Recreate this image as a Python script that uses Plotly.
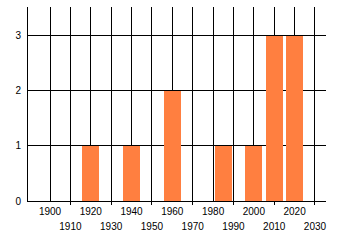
import plotly.graph_objects as go

years = [1920, 1940, 1960, 1985, 2000, 2010, 2020]
counts = [1, 1, 2, 1, 1, 3, 3]

even_ticks = [1900, 1920, 1940, 1960, 1980, 2000, 2020]
odd_ticks = [1910, 1930, 1950, 1970, 1990, 2010, 2030]
y_ticks = [0, 1, 2, 3]

bar_color = "#FF7F40"
font = dict(family="Liberation Sans, Arial, sans-serif", size=10, color="#000000")

fig = go.Figure()
fig.add_trace(go.Bar(x=years, y=counts, width=8.2,
                     marker=dict(color=bar_color, line=dict(width=0)),
                     showlegend=False, hoverinfo="x+y"))
# invisible trace for the second (staggered) x axis
fig.add_trace(go.Scatter(x=[odd_ticks[0]], y=[0], xaxis="x2", mode="markers",
                         marker=dict(opacity=0), showlegend=False, hoverinfo="skip"))

xr = [1889.2, 2035.4]
fig.update_layout(
    width=340, height=245,
    margin=dict(l=28, r=14, t=7, b=44),
    paper_bgcolor="white", plot_bgcolor="white",
    font=font,
    bargap=0,
    xaxis=dict(range=xr, tickvals=even_ticks, ticktext=[str(v) for v in even_ticks],
               showgrid=True, gridcolor="black", gridwidth=1,
               showline=True, linecolor="black", linewidth=1,
               ticks="", zeroline=False, tickfont=font, ticklabelstandoff=1),
    xaxis2=dict(range=xr, overlaying="x", anchor="y", side="bottom",
                tickvals=odd_ticks, ticktext=[str(v) for v in odd_ticks],
                showgrid=True, gridcolor="black", gridwidth=1,
                showline=False, ticks="outside", ticklen=3, tickcolor="black",
                zeroline=False, tickfont=font, ticklabelstandoff=13),
    yaxis=dict(range=[0, 3.52], tickvals=y_ticks, ticktext=[str(v) for v in y_ticks],
               showgrid=True, gridcolor="black", gridwidth=1,
               showline=True, linecolor="black", linewidth=1,
               ticks="", zeroline=False, tickfont=font, ticklabelstandoff=4),
)

fig.write_html("out.html")
